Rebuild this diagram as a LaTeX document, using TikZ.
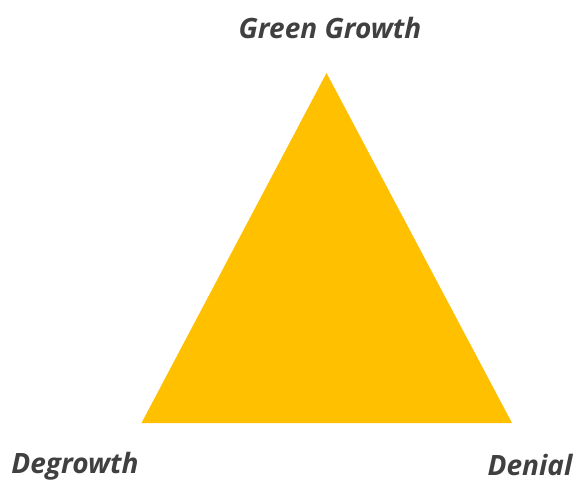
\documentclass[tikz,border=0pt]{standalone}
\usepackage{fontspec}
\setmainfont{Open Sans}
\usepackage{tikz}
\definecolor{gold}{HTML}{FFC000}
\definecolor{labelgray}{HTML}{404040}
\tikzset{
  corner/.style={font=\fontsize{28}{32}\selectfont\bfseries\itshape, text=labelgray, inner sep=0pt},
}

\begin{document}
\begin{tikzpicture}[x=1pt, y=1pt]
		%%%%% START %%%%%
		\useasboundingbox (0, 0) rectangle (578, 480);
		
		\coordinate (top) at (326.5, 407);
		\coordinate (left) at (141.5, 57);
		\coordinate (right) at (512, 57);
		\fill[gold] (top) -- (left) -- (right) -- cycle;
		
		\node[corner] (green) at (330, 452) {Green Growth};
		\node[corner] (degrowth) at (75, 14) {Degrowth};
		\node[corner] (denial) at (530, 15) {Denial};
		
		%%%%% END %%%%%
	\end{tikzpicture}
\end{document}
